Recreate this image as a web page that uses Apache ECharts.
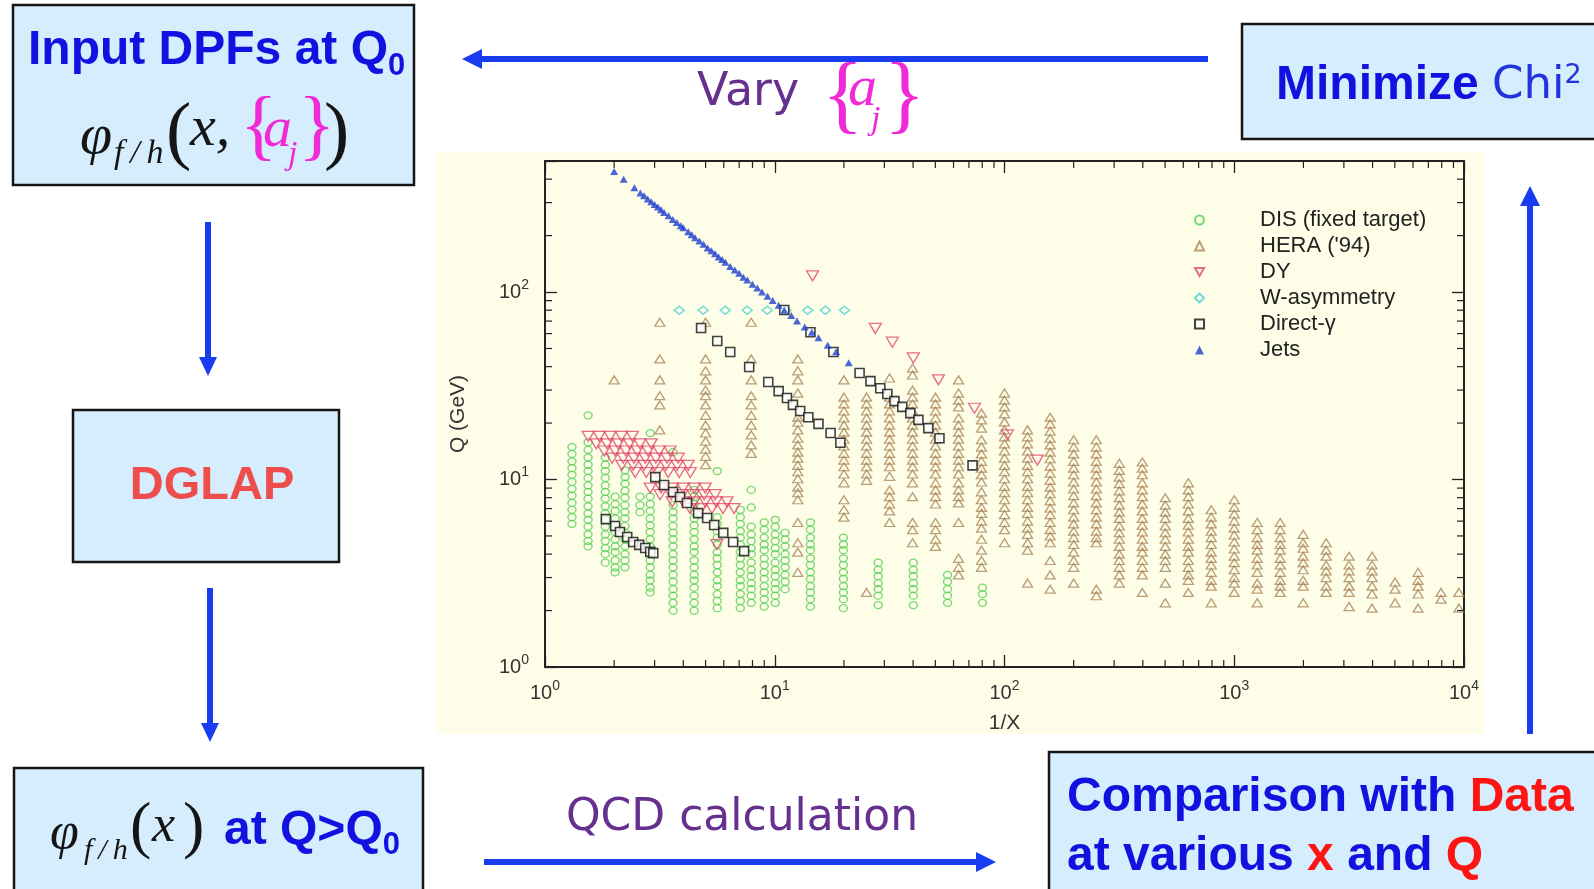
<!DOCTYPE html>
<html>
<head>
<meta charset="utf-8">
<title>PDF global fit</title>
<script src="https://cdn.jsdelivr.net/npm/echarts@6/dist/echarts.min.js"></script>
<style>
  html, body { margin: 0; padding: 0; background: #fff; }
  #main { width: 1594px; height: 889px; }
</style>
</head>
<body>
<div id="main"></div>
<script>
// ---- axes ----
var xMajor = [1, 10, 100, 1000, 10000];
var xMajorExp = ['0', '1', '2', '3', '4'];
var yMajor = [1, 10, 100];
var yMajorExp = ['0', '1', '2'];
var xMinor = [2, 3, 4, 5, 6, 7, 8, 9, 20, 30, 40, 50, 60, 70, 80, 90,
  200, 300, 400, 500, 600, 700, 800, 900, 2000, 3000, 4000, 5000, 6000, 7000, 8000, 9000];
var yMinor = [2, 3, 4, 5, 6, 7, 8, 9, 20, 30, 40, 50, 60, 70, 80, 90, 200, 300, 400];

var names = ['DIS (fixed target)', "HERA ('94)", 'DY', 'W-asymmetry', 'Direct-\u03b3', 'Jets'];

// ---- DIS fixed target: columns (1/x) with their Q values ----
var disX = [1.31, 1.54, 1.83, 2.02, 2.23, 2.59, 2.87, 3.61, 4.46, 5.62, 7.08,
  7.9, 9.0, 10.05, 11.1, 14.3, 19.9, 28.2, 40.1, 56.5, 80.2];
var disQ = [
  [14.9, 13.7, 12.5, 11.5, 10.6, 9.7, 8.9, 8.2, 7.5, 6.9, 6.3, 5.8],
  [22, 15.8, 14.4, 13.1, 12.0, 11.1, 10.2, 9.3, 8.6, 7.9, 7.2, 6.6, 6.1, 5.6, 5.1, 4.7, 4.4],
  [13.1, 12.0, 11.1, 10.2, 9.3, 8.6, 7.9, 7.2, 6.6, 6.1, 5.6, 5.1, 4.7, 4.3, 4.0, 3.6],
  [8.1, 7.4, 6.8, 6.2, 5.7, 5.25, 4.8, 4.4, 4.1, 3.7, 3.4, 3.2],
  [11.2, 10.3, 9.5, 8.7, 8.0, 7.3, 6.7, 6.2, 5.65, 5.2, 4.8, 4.4, 4.0, 3.7, 3.4],
  [8.1, 7.3, 6.7],
  [17.7, 8.1, 7.4, 6.8, 6.2, 5.7, 5.25, 4.8, 4.4, 4.1, 3.7, 3.4, 3.1, 2.9, 2.65, 2.5],
  [14.0, 7.3, 6.7, 6.2, 5.65, 5.2, 4.8, 4.4, 4.0, 3.7, 3.4, 3.1, 2.85, 2.6, 2.4, 2.2, 2.0],
  [8.8, 8.1, 7.4, 6.8, 6.2, 5.7, 5.25, 4.8, 4.4, 4.1, 3.7, 3.4, 3.1, 2.9, 2.65, 2.4, 2.2, 2.0],
  [11.1, 6.3, 5.8, 5.3, 4.9, 4.5, 4.1, 3.8, 3.5, 3.2, 2.9, 2.7, 2.45, 2.25, 2.06],
  [6.9, 6.3, 5.8, 5.3, 4.9, 4.5, 4.1, 3.8, 3.5, 3.2, 2.9, 2.7, 2.45, 2.25, 2.06],
  [8.8, 7.1, 5.6, 5.1, 4.7, 4.3, 4.0, 3.6, 3.3, 3.05, 2.8, 2.6, 2.4, 2.2],
  [5.9, 5.4, 4.9, 4.5, 4.2, 3.8, 3.5, 3.2, 2.95, 2.7, 2.5, 2.3, 2.1],
  [6.1, 5.6, 5.1, 4.7, 4.3, 4.0, 3.6, 3.3, 3.05, 2.8, 2.6, 2.4, 2.2],
  [5.2, 4.8, 4.4, 4.0, 3.7, 3.4, 3.1, 2.85, 2.6],
  [5.9, 5.4, 4.9, 4.5, 4.2, 3.8, 3.5, 3.2, 2.95, 2.7, 2.5, 2.3, 2.1],
  [4.9, 4.5, 4.2, 3.8, 3.5, 3.2, 2.95, 2.7, 2.5, 2.3, 2.06],
  [3.6, 3.3, 3.05, 2.8, 2.6, 2.4, 2.14],
  [3.6, 3.3, 3.05, 2.8, 2.6, 2.4, 2.14],
  [3.1, 2.85, 2.6, 2.4, 2.2],
  [2.65, 2.45, 2.2]
];

// ---- HERA ('94): columns (1/x) with their Q values ----
var heraX = [2.0, 3.16, 5.0, 7.9, 12.6, 20, 25.1, 31.6, 39.8, 50.1, 63.1, 79.4, 100, 126, 158,
  200, 251, 316, 398, 501, 631, 794, 1000, 1259, 1585, 1995, 2512, 3162, 3981, 5012,
  6310, 7943, 9500];
var heraQ = [
  [34],
  [69, 44, 34, 28, 25, 18.4],
  [69, 44, 38, 34, 30, 28, 25, 22, 19.5, 17.7, 16, 14.5, 13.3, 12],
  [69, 44, 34, 28, 25, 22, 19.5, 17.3, 15.3, 13.8],
  [44, 38, 34, 28.9, 21.5, 20.2, 18.4, 16.6, 15.3, 14.0, 13.0, 11.9, 11.0, 10.1, 9.1, 8.5, 7.8, 5.9, 4.6, 4.1, 3.2],
  [34, 27.5, 25.3, 23.2, 21.3, 19.5, 17.9, 16.4, 15.1, 13.8, 12.7, 11.7, 10.7, 9.6, 7.8, 6.9, 6.3],
  [27.5, 25.3, 23.2, 21.3, 19.5, 17.9, 16.4, 15.1, 13.8, 12.7, 11.7, 10.7, 9.9, 2.5],
  [34.8, 27.5, 25.3, 23.2, 21.3, 19.5, 17.9, 16.4, 15.1, 13.8, 12.7, 11.7, 10.4, 8.8, 8.1, 7.4, 6.8, 5.9],
  [39.3, 36.1, 30, 27.5, 25.3, 23.2, 21.3, 19.5, 17.9, 16.4, 15.1, 13.8, 12.7, 11.7, 10.7, 9.6, 8.1, 5.9, 5.4, 4.6],
  [27.5, 25.3, 23.2, 21.3, 19.5, 17.9, 16.4, 15.1, 13.8, 12.7, 11.7, 10.7, 9.6, 8.8, 8.1, 7.4, 5.9, 5.4, 4.8, 4.4],
  [34, 28.9, 26.5, 24.4, 21.3, 19.5, 17.9, 16.4, 15.1, 13.8, 12.7, 11.7, 10.7, 9.6, 8.8, 8.1, 7.5, 5.9, 3.8, 3.4, 3.1],
  [22.6, 20.8, 18.8, 16.3, 14.9, 13.7, 12.5, 11.5, 10.6, 9.7, 8.6, 7.8, 7.1, 6.6, 6.0, 5.5, 4.8, 4.2, 3.7, 3.4],
  [28.9, 26.5, 24.4, 22.4, 20.3, 18.4, 16.9, 15.5, 14.2, 13.0, 11.9, 11.0, 10.1, 9.2, 8.5, 7.8, 7.1, 6.5, 5.9, 5.4, 4.6],
  [18.4, 16.9, 15.5, 14.2, 13.0, 11.9, 11.0, 10.1, 9.2, 8.5, 7.8, 7.1, 6.6, 6.0, 5.5, 5.1, 4.6, 4.2, 2.8],
  [21.5, 19.8, 18.1, 16.6, 15.3, 14.0, 12.9, 11.8, 10.8, 9.9, 9.1, 8.4, 7.7, 7.05, 6.5, 5.9, 5.4, 5.0, 4.6, 3.7, 3.1, 2.6],
  [16.3, 14.9, 13.7, 12.5, 11.5, 10.6, 9.7, 8.9, 8.2, 7.5, 6.9, 6.3, 5.8, 5.3, 4.9, 4.5, 4.1, 3.7, 3.4, 2.8],
  [16.3, 14.9, 13.7, 12.5, 11.5, 10.6, 9.7, 8.9, 8.2, 7.5, 6.9, 6.3, 5.8, 5.3, 4.9, 4.6, 2.6, 2.4],
  [12.2, 11.2, 10.3, 9.5, 8.7, 8.0, 7.3, 6.7, 6.2, 5.65, 5.2, 4.8, 4.4, 4.0, 3.7, 3.4, 3.1, 2.8],
  [12.4, 11.5, 10.6, 9.6, 8.8, 8.1, 7.4, 6.8, 6.2, 5.7, 5.25, 4.8, 4.4, 4.1, 3.7, 3.4, 3.1, 2.5],
  [8.0, 7.3, 6.7, 6.2, 5.65, 5.2, 4.8, 4.4, 4.0, 3.7, 3.4, 2.8, 2.2],
  [9.6, 8.8, 8.1, 7.4, 6.8, 6.2, 5.7, 5.25, 4.8, 4.4, 4.1, 3.7, 3.4, 3.1, 2.9, 2.5],
  [6.9, 6.3, 5.8, 5.3, 4.9, 4.5, 4.1, 3.8, 3.5, 3.2, 2.9, 2.7, 2.2],
  [7.8, 7.1, 6.55, 6.0, 5.5, 5.06, 4.64, 4.26, 3.9, 3.6, 3.3, 3.0, 2.8, 2.5],
  [5.9, 5.4, 4.9, 4.5, 4.2, 3.8, 3.5, 3.2, 2.8, 2.6, 2.2],
  [5.9, 5.4, 4.9, 4.5, 4.2, 3.8, 3.5, 3.2, 2.9, 2.7, 2.5],
  [5.1, 4.6, 4.3, 3.9, 3.6, 3.3, 2.9, 2.7, 2.2],
  [4.6, 4.2, 3.9, 3.5, 3.25, 3.0, 2.7, 2.5],
  [3.9, 3.5, 3.25, 3.0, 2.7, 2.5, 2.1],
  [3.9, 3.5, 3.25, 3.0, 2.7, 2.45, 2.06],
  [2.84, 2.6, 2.2],
  [3.2, 2.9, 2.7, 2.45, 2.06],
  [2.5, 2.3],
  [2.5, 2.06]
];

// ---- Drell-Yan: [1/x, Q] ----
var dyPts = [
  [14.6, 122], [27.4, 64], [32.5, 54], [40.1, 44.5], [51.6, 34], [74, 24], [103, 17.3], [139, 12.7], [5.6, 4.5],
  [1.54, 17], [1.72, 17], [1.92, 17], [2.15, 17], [2.4, 17],
  [1.67, 15.5], [1.86, 15.5], [2.08, 15.5], [2.33, 15.5], [2.59, 15.5], [2.9, 15.5],
  [1.81, 14.2], [2.02, 14.2], [2.25, 14.2], [2.52, 14.2], [2.81, 14.2], [3.14, 14.2], [3.5, 14.2],
  [1.96, 13], [2.19, 13], [2.44, 13], [2.73, 13], [3.04, 13], [3.4, 13], [3.8, 13],
  [2.16, 11.9], [2.42, 11.9], [2.7, 11.9], [3.01, 11.9], [3.36, 11.9], [3.76, 11.9], [4.2, 11.9],
  [2.47, 10.9], [2.76, 10.9], [3.08, 10.9], [3.44, 10.9], [3.84, 10.9], [4.29, 10.9],
  [2.87, 9.0], [3.2, 9.0], [3.58, 9.0], [3.99, 9.0], [4.46, 9.0], [4.98, 9.0],
  [3.17, 8.3], [3.54, 8.3], [3.95, 8.3], [4.41, 8.3], [4.93, 8.3], [5.5, 8.3],
  [3.58, 7.6], [3.99, 7.6], [4.46, 7.6], [4.98, 7.6], [5.56, 7.6], [6.2, 7.6],
  [4.28, 7.0], [4.78, 7.0], [5.33, 7.0], [5.95, 7.0], [6.65, 7.0]
];

// ---- W asymmetry ----
var wX = [3.84, 4.88, 6.09, 7.59, 9.27, 11.2, 13.9, 16.6, 20.1];
var wQ = [80, 80, 80, 80, 80, 80, 80, 80, 80];

// ---- Direct photon: [1/x, Q] ----
var gammaPts = [
  [4.78, 64.3], [5.62, 54.8], [6.40, 47.9], [7.74, 39.8], [9.37, 33.1], [10.4, 29.6], [11.3, 27.2],
  [12.0, 25.0], [12.9, 23.2], [14.0, 21.5], [15.5, 19.8], [17.5, 17.7], [19.3, 15.7],
  [11.0, 80.2], [14.3, 61], [18.0, 47.9], [23.4, 37], [26.1, 33.5], [28.8, 30.7], [30.9, 28.6],
  [33.2, 26.2], [35.9, 24.4], [38.9, 22.6], [42.2, 20.8], [46.6, 18.8], [52.1, 16.6], [72.6, 11.9],
  [3.02, 10.3], [3.30, 9.35], [3.61, 8.58], [3.87, 8.07], [4.15, 7.50], [4.64, 6.62], [5.08, 6.23],
  [5.45, 5.72], [5.97, 5.19], [6.59, 4.64], [7.36, 4.15],
  [1.84, 6.15], [2.02, 5.65], [2.12, 5.25], [2.28, 4.94], [2.42, 4.64], [2.57, 4.48], [2.73, 4.31],
  [2.87, 4.11], [2.96, 4.05]
];

// ---- Jets: [1/x, Q] ----
var jetPts = [
  [2.0, 440], [2.2, 400], [2.45, 360], [2.6, 338], [2.7, 326], [2.8, 314], [2.9, 303], [3.0, 293],
  [3.1, 284], [3.2, 275], [3.3, 266], [3.45, 255], [3.6, 244], [3.75, 235], [3.9, 226], [4.0, 220],
  [4.2, 210], [4.35, 202], [4.5, 195], [4.7, 187], [4.9, 180], [5.1, 172], [5.3, 166], [5.5, 160],
  [5.7, 154], [5.9, 149], [6.1, 144], [6.4, 137], [6.7, 131], [7.0, 126], [7.3, 120], [7.6, 116],
  [8.0, 110], [8.4, 105], [8.8, 100], [9.3, 95], [9.8, 90], [10.4, 85], [11, 80], [11.8, 75],
  [12.5, 70], [13.5, 65], [14.5, 61], [15.5, 57], [17, 52], [18.5, 48], [21, 42]
];

function columns(xs, qs) {
  var out = [];
  xs.forEach(function (x, i) {
    qs[i].forEach(function (q) { out.push([x, q]); });
  });
  return out;
}

var SERIF = '"Liberation Serif", "DejaVu Serif", serif';
var SANS = '"Liberation Sans", Arial, sans-serif';
var ROUND = '"DejaVu Sans", sans-serif';
var BLUE = '#1212e0';
var ARROW = '#1a3cf0';
var PURPLE = '#66308f';
var MAGENTA = '#f02ad6';
var INK = '#151515';

function expLabel(majors, exps) {
  return function (v) {
    for (var i = 0; i < majors.length; i++) {
      if (Math.abs(v - majors[i]) < 1e-6 * majors[i]) return '10{sup|' + exps[i] + '}';
    }
    return '';
  };
}

var axisRich = { sup: { fontSize: 14, fontFamily: SANS, color: '#333', padding: [0, 0, 14, 0] } };

function box(x, y, w, h) {
  return { type: 'rect', z: 5, silent: true, shape: { x: x, y: y, width: w, height: h },
    style: { fill: '#d5edfc', stroke: INK, lineWidth: 2.5 } };
}
function txt(x, y, text, style) {
  return { type: 'text', z: 20, silent: true, x: x, y: y,
    style: Object.assign({ text: text, align: 'left', verticalAlign: 'middle' }, style) };
}
function arrow(x1, y1, x2, y2, head) {
  return { type: 'group', z: 15, silent: true, children: [
    { type: 'line', shape: { x1: x1, y1: y1, x2: x2, y2: y2 }, style: { stroke: ARROW, lineWidth: 6 } },
    { type: 'polygon', shape: { points: head }, style: { fill: ARROW } }
  ] };
}
function ital(size, color) {
  return { fontFamily: SERIF, fontStyle: 'italic', fontSize: size, fill: color || INK };
}
function roman(size, color) {
  return { fontFamily: SERIF, fontSize: size, fill: color || INK };
}

var chart = echarts.init(document.getElementById('main'));

function minorTick(params, api) {
  var cs = params.coordSys;
  var p = api.coord([api.value(0), api.value(1)]);
  var st = { stroke: '#222', lineWidth: 1.2 };
  var len = 7;
  if (api.value(2) === 0) {
    return { type: 'group', children: [
      { type: 'line', shape: { x1: p[0], y1: cs.y + cs.height, x2: p[0], y2: cs.y + cs.height - len }, style: st },
      { type: 'line', shape: { x1: p[0], y1: cs.y, x2: p[0], y2: cs.y + len }, style: st }
    ] };
  }
  return { type: 'group', children: [
    { type: 'line', shape: { x1: cs.x, y1: p[1], x2: cs.x + len, y2: p[1] }, style: st },
    { type: 'line', shape: { x1: cs.x + cs.width, y1: p[1], x2: cs.x + cs.width - len, y2: p[1] }, style: st }
  ] };
}

var minorData = xMinor.map(function (v) { return [v, 1, 0]; })
  .concat(yMinor.map(function (v) { return [1, v, 1]; }));

var tickStyle = { inside: true, length: 12, lineStyle: { color: '#222', width: 1.3 } };
var frameLine = { show: true, onZero: false, lineStyle: { color: '#222', width: 2 } };

var legendData = names.map(function (n) {
  return n === 'DY' ? { name: n, icon: 'path://M0,0L10,0L5,8.7Z' } : { name: n };
});

var option = {
  animation: false,
  backgroundColor: '#ffffff',
  grid: {
    left: 545, top: 161, right: 130, bottom: 222,
    containLabel: false, outerBoundsMode: 'none'
  },
  legend: {
    data: legendData, orient: 'vertical', left: 1189, top: 204,
    itemWidth: 9, itemHeight: 9, itemGap: 4,
    textStyle: { fontFamily: SANS, fontSize: 22, lineHeight: 21, color: '#222', padding: [0, 0, 0, 51] }
  },
  xAxis: [{
    type: 'log', logBase: 10, min: 1, max: 10000, splitNumber: 5,
    name: '1/X', nameLocation: 'middle', nameGap: 46,
    nameTextStyle: { fontFamily: SANS, fontSize: 21, color: '#333' },
    axisLine: frameLine, splitLine: { show: false }, axisTick: tickStyle,
    axisLabel: { margin: 12, fontFamily: SANS, fontSize: 20, color: '#333',
      formatter: expLabel(xMajor, xMajorExp), rich: axisRich }
  }, {
    type: 'log', logBase: 10, min: 1, max: 10000, splitNumber: 5, position: 'top',
    axisLine: frameLine, splitLine: { show: false }, axisTick: tickStyle, axisLabel: { show: false }
  }],
  yAxis: [{
    type: 'log', logBase: 10, min: 1, max: 500, splitNumber: 3,
    name: 'Q (GeV)', nameLocation: 'middle', nameGap: 76, nameRotate: 90,
    nameTextStyle: { fontFamily: SANS, fontSize: 21, color: '#333' },
    axisLine: frameLine, splitLine: { show: false }, axisTick: tickStyle,
    axisLabel: { margin: 16, fontFamily: SANS, fontSize: 20, color: '#333',
      formatter: expLabel(yMajor, yMajorExp), rich: axisRich }
  }, {
    type: 'log', logBase: 10, min: 1, max: 500, splitNumber: 3, position: 'right',
    axisLine: frameLine, splitLine: { show: false }, axisTick: tickStyle, axisLabel: { show: false }
  }],
  series: [
    { name: names[0], type: 'scatter', symbol: 'circle', symbolSize: [8, 7],
      itemStyle: { color: 'rgba(0,0,0,0)', borderColor: '#52cf52', borderWidth: 1.3 },
      data: columns(disX, disQ) },
    { name: names[1], type: 'scatter', symbol: 'triangle', symbolSize: [10, 8],
      itemStyle: { color: 'rgba(0,0,0,0)', borderColor: '#a9865a', borderWidth: 1.3 },
      data: columns(heraX, heraQ) },
    { name: names[2], type: 'scatter', symbol: 'triangle', symbolRotate: 180, symbolSize: [12, 10],
      itemStyle: { color: 'rgba(0,0,0,0)', borderColor: '#e2466f', borderWidth: 1.3 },
      data: dyPts },
    { name: names[3], type: 'scatter', symbol: 'diamond', symbolSize: [10, 8],
      itemStyle: { color: 'rgba(0,0,0,0)', borderColor: '#4fd3d3', borderWidth: 1.5 },
      data: wX.map(function (x, i) { return [x, wQ[i]]; }) },
    { name: names[4], type: 'scatter', symbol: 'rect', symbolSize: 9,
      itemStyle: { color: '#ffffff', borderColor: '#111', borderWidth: 1.6 },
      data: gammaPts },
    { name: names[5], type: 'scatter', symbol: 'triangle', symbolSize: [8, 7],
      itemStyle: { color: '#1f3fcf' },
      data: jetPts },
    { type: 'custom', renderItem: minorTick, data: minorData, silent: true, clip: false, z: 3 }
  ],
  graphic: [
    { type: 'rect', z: -1, silent: true, shape: { x: 437, y: 152, width: 1047, height: 582 },
      style: { fill: '#fefde7' } },
    box(13, 5, 401, 180),
    box(73, 410, 266, 152),
    box(14, 768, 409, 140),
    box(1049, 752, 560, 150),
    box(1242, 24, 360, 115),

    // top-left box
    txt(28, 51, '{a|Input DPFs at Q}{s|0}', { rich: {
      a: { fontFamily: SANS, fontWeight: 'bold', fontSize: 48, fill: BLUE },
      s: { fontFamily: SANS, fontWeight: 'bold', fontSize: 31, fill: BLUE, padding: [30, 0, 0, 0] } } }),
    txt(80, 138, '\u03c6', ital(58)),
    txt(114, 154, 'f\u2009/\u2009h', ital(34)),
    txt(166, 135, '(', roman(76)),
    txt(190, 130, 'x,', ital(58)),
    txt(240, 131, '{', roman(78, MAGENTA)),
    txt(263, 131, 'a', ital(58, MAGENTA)),
    txt(288, 155, 'j', ital(34, MAGENTA)),
    txt(298, 131, '}', roman(78, MAGENTA)),
    txt(324, 135, ')', roman(76)),

    // top arrow with Vary {a_j}
    arrow(1208, 59, 478, 59, [[462, 59], [482, 49], [482, 69]]),
    txt(697, 93, 'Vary', { fontFamily: ROUND, fontSize: 46, fill: PURPLE }),
    txt(822, 99, '{', roman(86, MAGENTA)),
    txt(848, 90, 'a', ital(58, MAGENTA)),
    txt(871, 120, 'j', ital(34, MAGENTA)),
    txt(884, 99, '}', roman(86, MAGENTA)),

    // top-right box
    txt(1276, 86, '{m|Minimize }{c|Chi}{s|2}', { rich: {
      m: { fontFamily: SANS, fontWeight: 'bold', fontSize: 48, fill: BLUE },
      c: { fontFamily: ROUND, fontSize: 45, fill: '#2233dd' },
      s: { fontFamily: ROUND, fontSize: 27, fill: '#2233dd', padding: [0, 0, 20, 0] } } }),

    // left column
    arrow(208, 222, 208, 360, [[208, 376], [199, 357], [217, 357]]),
    txt(212, 486, 'DGLAP', { align: 'center', fontFamily: SANS, fontWeight: 'bold', fontSize: 47, fill: '#ef4c4c' }),
    arrow(210, 588, 210, 726, [[210, 742], [201, 723], [219, 723]]),

    // bottom-left box
    txt(50, 834, '\u03c6', ital(52)),
    txt(84, 851, 'f\u2009/\u2009h', ital(30)),
    txt(130, 829, '(', roman(64)),
    txt(152, 827, 'x', ital(52)),
    txt(183, 829, ')', roman(64)),
    txt(224, 831, '{a|at Q>Q}{s|0}', { rich: {
      a: { fontFamily: SANS, fontWeight: 'bold', fontSize: 48, fill: BLUE },
      s: { fontFamily: SANS, fontWeight: 'bold', fontSize: 31, fill: BLUE, padding: [28, 0, 0, 0] } } }),

    // bottom arrow
    arrow(484, 862, 978, 862, [[996, 862], [976, 852], [976, 872]]),
    txt(742, 819, 'QCD calculation', { align: 'center', fontFamily: ROUND, fontSize: 44, fill: PURPLE }),

    // bottom-right box
    txt(1067, 827, '{b|Comparison with }{r|Data}\n{b|at various }{r|x}{b| and }{r|Q}', { rich: {
      b: { fontFamily: SANS, fontWeight: 'bold', fontSize: 48, lineHeight: 59, fill: BLUE },
      r: { fontFamily: SANS, fontWeight: 'bold', fontSize: 48, lineHeight: 59, fill: '#ff1414' } } }),

    // right arrow
    arrow(1530, 734, 1530, 204, [[1530, 186], [1520, 206], [1540, 206]])
  ]
};

chart.setOption(option);
window.addEventListener('resize', function () { chart.resize(); });
</script>
</body>
</html>
